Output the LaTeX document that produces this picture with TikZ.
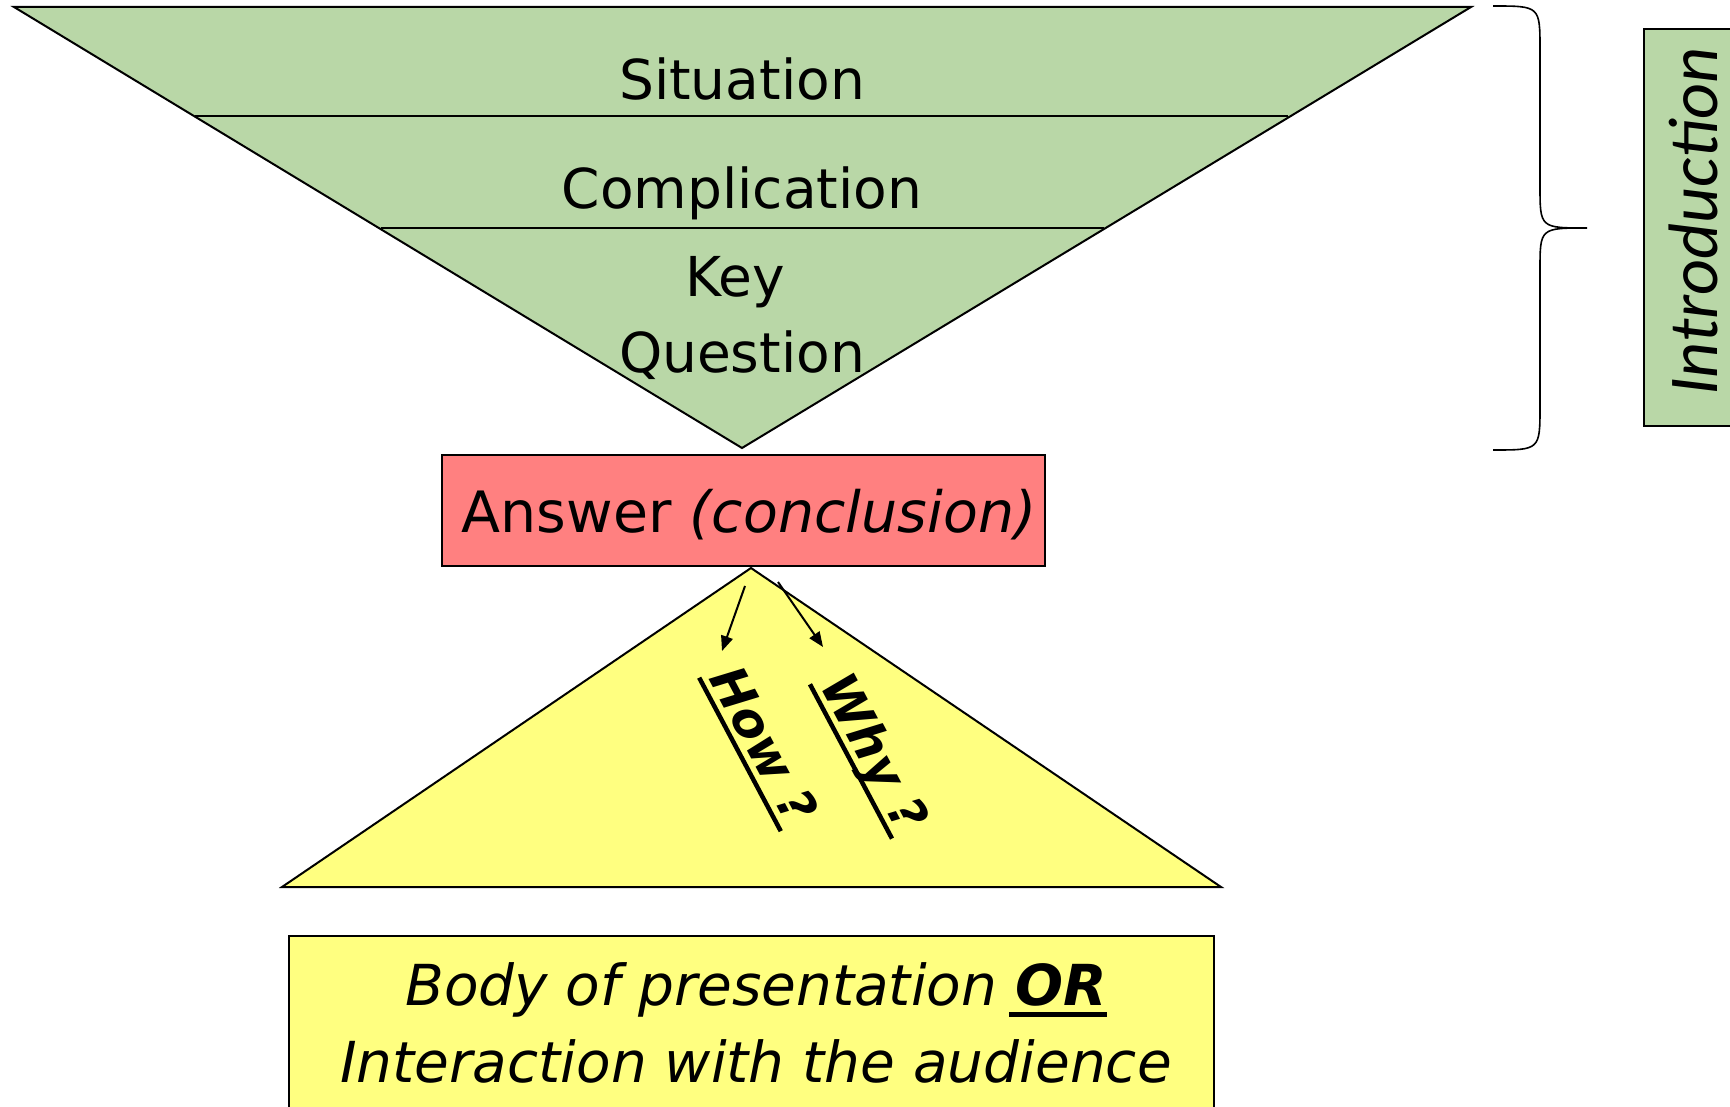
\documentclass[tikz,border=0pt]{standalone}
\usepackage{fontspec}
\setmainfont{DejaVu Sans}
\newfontfamily\introfont{Carlito}
\usetikzlibrary{arrows.meta}
\definecolor{introgreen}{HTML}{B9D7A7}
\definecolor{answerred}{HTML}{FF8080}
\definecolor{bodyyellow}{HTML}{FFFF80}
\newcommand\heavyul[1]{\setbox0=\hbox{#1}%
  \rlap{\kern-0.1em\rule[-0.2em]{\dimexpr\wd0+0.1em\relax}{0.09em}}\box0}
\tikzset{
  funnel/.style={font=\fontsize{55}{75}\selectfont, anchor=base, inner sep=0pt},
  askme/.style={font=\fontsize{50}{60}\selectfont\bfseries\itshape, anchor=base, inner sep=0pt},
  outline/.style={draw=black, line width=1.6pt},
  pointer/.style={line width=2pt, -{Triangle[length=15pt,width=12pt]}}
}
\begin{document}
\begin{tikzpicture}[x=1pt,y=-1pt]
\useasboundingbox (0,0) rectangle (1730,1107);
\clip (0,0) rectangle (1730,1107);
% funnel of the introduction
\filldraw[fill=introgreen, line width=2pt] (14,7)--(1471,7)--(742,448)--cycle;
\draw[line width=2pt] (195,116)--(1288,116);
\draw[line width=2pt] (381,228)--(1104,228);
\node[funnel] (Situation) at (742,100) {Situation};
%
\node[funnel] (Complication) at (742,209) {Complication};
%
\node[funnel] (Key) at (735,297) {Key};
\node[funnel] (Question) at (742,372) {Question};
%
\draw[line width=1.6pt] (1493,6) .. controls (1540,6) .. (1540,50)--(1540,186)
  .. controls (1540,228) .. (1587,228) .. controls (1540,228) .. (1540,270)
  --(1540,406) .. controls (1540,450) .. (1493,450);
\node[outline, fill=introgreen, rotate=90, anchor=north, minimum width=397pt,
  minimum height=99pt, font=\fontsize{70}{80}\selectfont\introfont\itshape]
  (Introduction) at (1643,227.5) {\hspace*{12pt}Introduction};
%
\node[outline, fill=answerred, minimum width=603pt, minimum height=111pt,
  text height=43pt, text depth=0pt, font=\fontsize{57}{66}\selectfont]
  (Answer) at (743.5,510.5) {\hspace*{11pt}Answer \textit{(conclusion)}};
%
\filldraw[fill=bodyyellow, line width=2pt] (751,568)--(1221,887)--(282,887)--cycle;
\node[askme, rotate=-62] (How) at (748,753) {\heavyul{How ?}};
\node[askme, rotate=-62] (Why) at (859,760) {\heavyul{Why ?}};
\coordinate (HowFrom) at (745,586);
\coordinate (HowTo) at (722,651);
\coordinate (WhyFrom) at (778,582);
\coordinate (WhyTo) at (823,647);
\draw[pointer] (HowFrom)--(HowTo);
\draw[pointer] (WhyFrom)--(WhyTo);
%
\node[outline, fill=bodyyellow, anchor=north, minimum width=925pt,
  minimum height=174pt, align=center, font=\fontsize{56.5}{77}\selectfont\itshape]
  (Body) at (751.5,935)
  {\hspace*{9pt}Body of presentation \textbf{\heavyul{OR}}\\
   \hspace*{9pt}Interaction with the audience};
\end{tikzpicture}
\end{document}
